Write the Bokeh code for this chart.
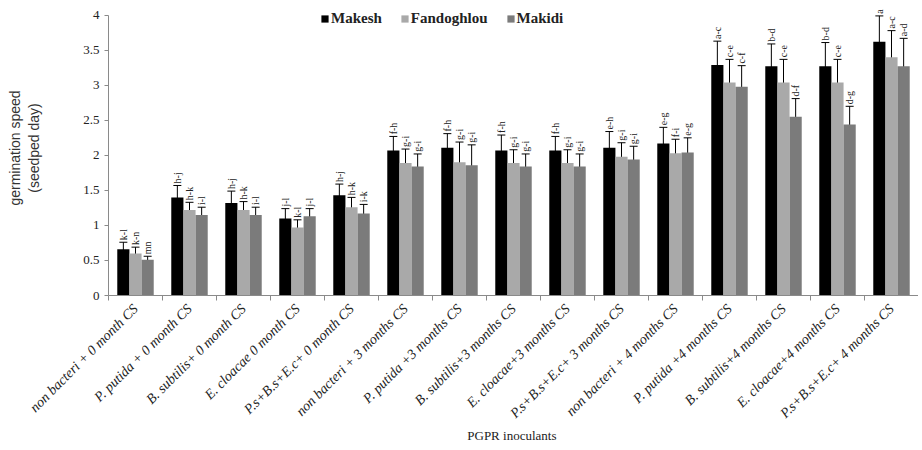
import numpy as np
from math import pi
from bokeh.plotting import figure
from bokeh.models import (ColumnDataSource, Range1d, FixedTicker, Whisker, Legend,
                          LegendItem, TeeHead)
from bokeh.core.properties import value
from bokeh.embed import file_html
from bokeh.resources import INLINE

categories = [
    "non bacteri + 0 month CS", "P. putida + 0 month CS", "B. subtilis+ 0 month CS",
    "E. cloacae 0 month CS", "P.s+B.s+E.c+ 0 month CS", "non bacteri + 3 months CS",
    "P. putida +3 months CS", "B. subtilis+3 months CS", "E. cloacae+3 months CS",
    "P.s+B.s+E.c+ 3 months CS", "non bacteri + 4 months CS", "P. putida +4 months CS",
    "B. subtilis+4 months CS", "E. cloacae+4 months CS", "P.s+B.s+E.c+ 4 months CS",
]
series_names = ["Makesh", "Fandoghlou", "Makidi"]
makesh = [0.66, 1.40, 1.32, 1.10, 1.43, 2.07, 2.11, 2.07, 2.07, 2.11, 2.17, 3.29, 3.27, 3.27, 3.62]
fandoghlou = [0.60, 1.22, 1.22, 0.97, 1.26, 1.89, 1.90, 1.89, 1.89, 1.98, 2.03, 3.04, 3.04, 3.04, 3.40]
makidi = [0.51, 1.15, 1.15, 1.13, 1.17, 1.84, 1.86, 1.84, 1.84, 1.94, 2.04, 2.98, 2.55, 2.44, 3.27]
makesh_err = [0.10, 0.17, 0.17, 0.14, 0.16, 0.20, 0.20, 0.22, 0.20, 0.23, 0.23, 0.34, 0.32, 0.34, 0.37]
fandoghlou_err = [0.09, 0.11, 0.12, 0.11, 0.14, 0.20, 0.29, 0.19, 0.19, 0.20, 0.20, 0.33, 0.33, 0.33, 0.38]
makidi_err = [0.05, 0.11, 0.11, 0.11, 0.13, 0.18, 0.29, 0.18, 0.18, 0.19, 0.21, 0.30, 0.26, 0.26, 0.40]
makesh_letters = ["k-l", "h-j", "h-j", "j-l", "h-j", "f-h", "f-h", "f-h", "f-h", "e-h", "e-g", "a-c", "b-d", "b-d", "a"]
fandoghlou_letters = ["k-n", "h-k", "h-k", "k-l", "h-k", "g-i", "g-i", "g-i", "g-i", "g-i", "f-i", "c-e", "c-e", "c-e", "a-c"]
makidi_letters = ["mn", "i-l", "i-l", "j-l", "i-k", "g-i", "g-i", "g-i", "g-i", "g-i", "e-g", "c-f", "d-f", "d-g", "a-d"]
y_ticks = [0, 0.5, 1, 1.5, 2, 2.5, 3, 3.5, 4]
x_title = "PGPR  inoculants"
y_title = "germination speed\n(seedped day)"

colors = ["#000000", "#a9a9a9", "#7b7b7b"]
bar_w = 0.225
offsets = [-bar_w, 0.0, bar_w]

n = len(categories)
idx = np.arange(1, n + 1)

p = figure(width=918, height=446, output_backend="svg", toolbar_location=None,
           x_range=Range1d(0.5, n + 0.5), y_range=Range1d(0, 4.21),
           min_border_left=108, min_border_right=0, min_border_top=0, min_border_bottom=150)
p.outline_line_color = None
p.xgrid.grid_line_color = None
p.ygrid.grid_line_color = None
p.background_fill_color = "white"

vals = [makesh, fandoghlou, makidi]
errs = [makesh_err, fandoghlou_err, makidi_err]
lets = [makesh_letters, fandoghlou_letters, makidi_letters]
renderers = []
for k in range(3):
    v = np.array(vals[k])
    e = np.array(errs[k])
    src = ColumnDataSource(dict(x=idx + offsets[k], top=v, lower=v - e, upper=v + e,
                                ly=v + e + 0.03, lab=lets[k]))
    r = p.vbar(x="x", top="top", width=bar_w, source=src, fill_color=colors[k],
               line_color=None)
    renderers.append(r)
    w = Whisker(base="x", lower="lower", upper="upper", source=src,
                line_color="black", line_width=1,
                upper_head=TeeHead(size=8, line_color="black", line_width=1),
                lower_head=TeeHead(size=8, line_color="black", line_width=1))
    p.add_layout(w)
    p.text(x="x", y="ly", text="lab", source=src, angle=pi / 2, text_align="left",
           text_baseline="middle", text_font=value("Liberation Serif"),
           text_font_size="10px", text_color="#222222")

legend = Legend(items=[LegendItem(label=series_names[k], renderers=[renderers[k]]) for k in range(3)],
                orientation="horizontal", location=(212, 268))
legend.label_text_font = "Liberation Serif"
legend.label_text_font_size = "15px"
legend.label_text_font_style = "bold"
legend.label_text_color = "#222222"
legend.glyph_width = 9
legend.glyph_height = 9
legend.spacing = 18
legend.padding = 0
legend.margin = 0
legend.border_line_color = None
legend.background_fill_alpha = 0
legend.label_standoff = 2
p.add_layout(legend)

# axes
yax = p.yaxis[0]
yax.ticker = FixedTicker(ticks=y_ticks, minor_ticks=[])
yax.bounds = (0, 4)
yax.axis_line_color = "#8a8a8a"
yax.major_tick_line_color = "#8a8a8a"
yax.major_tick_out = 4
yax.major_tick_in = 0
yax.minor_tick_line_color = None
yax.major_label_text_font = "Liberation Serif"
yax.major_label_text_font_size = "13px"
yax.major_label_text_color = "#222222"
yax.axis_label = y_title
yax.axis_label_text_font = "Liberation Sans"
yax.axis_label_text_font_style = "normal"
yax.axis_label_text_font_size = "14px"
yax.axis_label_text_color = "#333333"
yax.axis_label_standoff = 38

xax = p.xaxis[0]
xax.ticker = FixedTicker(ticks=list(idx), minor_ticks=list(np.arange(0.5, n + 1, 1.0)))
xax.major_label_overrides = {int(i): c for i, c in zip(idx, categories)}
xax.major_label_orientation = pi / 4
xax.major_label_text_font = "Liberation Serif"
xax.major_label_text_font_style = "italic"
xax.major_label_text_font_size = "14px"
xax.major_label_text_color = "#222222"
xax.major_tick_line_color = None
xax.minor_tick_line_color = "#8a8a8a"
xax.minor_tick_out = 5
xax.minor_tick_in = 0
xax.axis_line_color = "#8a8a8a"
xax.axis_label = x_title
xax.axis_label_text_font = "Liberation Serif"
xax.axis_label_text_font_style = "normal"
xax.axis_label_text_font_size = "13px"
xax.axis_label_text_color = "#222222"
xax.axis_label_standoff = -1

open("out.html", "w").write(file_html(p, INLINE))
